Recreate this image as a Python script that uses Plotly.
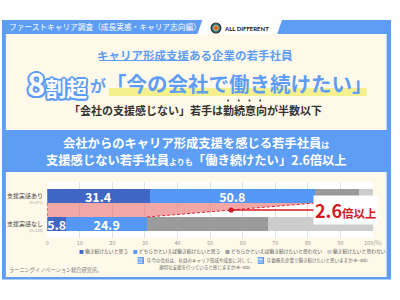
import plotly.graph_objects as go

# ---------------- data ----------------
categories = ["支援実感あり", "支援実感なし"]
sample_sizes = ["(n=471)", "(n=336)"]
series_names = ["働き続けたいと思う", "どちらかといえば働き続けたいと思う",
                "どちらかといえば働き続けたいと思わない", "働き続けたいと思わない"]
want_strong = [31.4, 5.8]
want_somewhat = [50.8, 24.9]
not_want_somewhat = [13.4, 37.0]
not_want_strong = [4.4, 32.3]
x_ticks = [0, 10, 20, 30, 40, 50, 60, 70, 80, 90, 100]
x_tick_labels = ["0", "10", "20", "30", "40", "50", "60", "70", "80", "90", "100(%)"]
ratio_label = "2.6倍以上"

# ---------------- style ----------------
FONT = "Noto Sans CJK JP"
BLUE = "#5e9df4"
CREAM = "#fef9e9"
RED = "#d51a20"
bar_colors = ["#3f66c4", "#5597f4", "#9b9b9b", "#cdcdcd"]
W, H = 400, 300


def px(x):
    return x / W


def py(y):
    return 1 - y / H


y_pos = [len(categories) - 1 - i for i in range(len(categories))]
BAR_W = 0.5

fig = go.Figure()
series = [want_strong, want_somewhat, not_want_somewhat, not_want_strong]
for k, (name, vals) in enumerate(zip(series_names, series)):
    show_text = k < 2
    fig.add_trace(go.Bar(
        y=y_pos, x=vals, name=name, orientation="h", width=BAR_W,
        marker=dict(color=bar_colors[k], line=dict(width=0)),
        text=[f"{v}" for v in vals] if show_text else None,
        textposition="inside" if show_text else "none",
        insidetextanchor="middle", textangle=0, constraintext="none",
        textfont=dict(color="white", size=12.5, family=FONT, weight="bold"),
        hoverinfo="skip", showlegend=False,
    ))

top_total = want_strong[0] + want_somewhat[0]
bottom_total = want_strong[1] + want_somewhat[1]
top_edge = y_pos[0] - BAR_W / 2
bottom_edge = y_pos[1] + BAR_W / 2

fig.add_trace(go.Scatter(
    x=[0, top_total, bottom_total, 0, 0],
    y=[top_edge, top_edge, bottom_edge, bottom_edge, top_edge],
    fill="toself", fillcolor="rgba(232,120,118,0.65)",
    mode="lines", line=dict(width=0), hoverinfo="skip", showlegend=False))
fig.add_trace(go.Scatter(
    x=[0, 0, None, bottom_total, top_total],
    y=[top_edge, bottom_edge, None, bottom_edge, top_edge],
    mode="lines", line=dict(color="#d9272e", width=1, dash="3px,2px"),
    hoverinfo="skip", showlegend=False))

shapes = []
# frame
shapes.append(dict(type="rect", xref="paper", yref="paper", x0=0, x1=1,
                   y0=py(279.5), y1=py(20), fillcolor=BLUE, line=dict(width=0), layer="below"))
shapes.append(dict(type="path", xref="paper", yref="paper",
                   path=f"M {px(206)},{py(20)} L {px(288)},{py(20)} L {px(283)},{py(34)} L {px(201)},{py(34)} Z",
                   fillcolor="white", line=dict(width=0), layer="below"))
shapes.append(dict(type="rect", xref="paper", yref="paper", x0=px(4), x1=px(395.5),
                   y0=py(130), y1=py(34), fillcolor=CREAM, line=dict(width=0), layer="below"))
shapes.append(dict(type="rect", xref="paper", yref="paper", x0=px(4), x1=px(395.5),
                   y0=py(277), y1=py(172), fillcolor=CREAM, line=dict(width=0), layer="below"))
# plot area background
shapes.append(dict(type="rect", xref="paper", yref="paper", x0=px(46.5), x1=px(381.5),
                   y0=py(238), y1=py(182), fillcolor="white", line=dict(width=0), layer="below"))
# yellow highlight under headline
shapes.append(dict(type="rect", xref="paper", yref="paper", x0=px(110), x1=px(375),
                   y0=py(96), y1=py(88), fillcolor="#f5f08e", line=dict(width=0), layer="below"))
# underline
shapes.append(dict(type="line", xref="paper", yref="paper", x0=px(100), x1=px(193),
                   y0=py(60.5), y1=py(60.5), line=dict(color=BLUE, width=1), layer="below"))
# emphasis dots
for cx in [232.5, 243.5, 254.5, 265.5]:
    shapes.append(dict(type="circle", xref="paper", yref="paper",
                       x0=px(cx - 1), x1=px(cx + 1), y0=py(101.5), y1=py(99.5),
                       fillcolor="#333", line=dict(width=0), layer="below"))
# logo
shapes.append(dict(type="circle", xref="paper", yref="paper", x0=px(215), x1=px(225),
                   y0=py(33), y1=py(23), fillcolor="#2f7f8f", line=dict(color="#333", width=1.2), layer="below"))
shapes.append(dict(type="circle", xref="paper", yref="paper", x0=px(217.5), x1=px(222.5),
                   y0=py(30.5), y1=py(25.5), fillcolor="#e4573d", line=dict(color="#f2c94c", width=0.8), layer="below"))
# note icons
for x0 in [139.5, 263]:
    shapes.append(dict(type="rect", xref="paper", yref="paper", x0=px(x0), x1=px(x0 + 6.5),
                       y0=py(264), y1=py(257), fillcolor=BLUE, line=dict(width=0), layer="below"))

ann = []


def text(t, x, y, size, color, xanchor="center", bold=False, family=FONT, **kw):
    d = dict(text=t, x=px(x), y=py(y), xref="paper", yref="paper", xanchor=xanchor,
             yanchor="middle", showarrow=False,
             font=dict(family=family, size=size, color=color, weight="bold" if bold else "normal"))
    d.update(kw)
    ann.append(d)


text("ファーストキャリア調査（成長実感・キャリア志向編）", 5, 27, 7.7, "white", "left")
text("ALL DIFFERENT", 226, 28, 6, "#111", "left", bold=True, family="Lato")
text("キャリア形成支援ある企業の若手社員", 198.5, 55, 11.5, BLUE, bold=True)

outline = ", ".join(f"{a}px {b}px 0 {BLUE}" for a, b in
                    [(2, 0), (-2, 0), (0, 2), (0, -2), (1.5, 1.5), (-1.5, -1.5), (1.5, -1.5), (-1.5, 1.5)])
d = dict(text="<span style='font-size:31px'>8</span>割超", x=px(89), y=py(83), xref="paper", yref="paper",
         xanchor="right", yanchor="middle", showarrow=False,
         font=dict(family=FONT, size=21, color="white", weight="bold", shadow=outline))
ann.append(d)
text("<span style='font-size:16px'>が</span>「今の会社で働き続けたい」", 88, 83, 20.5, BLUE, "left", bold=True)
text("「会社の支援感じない」若手は勤続意向が半数以下", 199, 110, 11, "#333", bold=True)

text("会社からのキャリア形成支援を感じる若手社員<span style='font-size:8px'>は</span>",
     199, 143.5, 12.3, "white", bold=True)
text("支援感じない若手社員<span style='font-size:8px'>よりも</span>「働き続けたい」2.6倍以上",
     200, 159.5, 12.3, "white", bold=True)

# category labels
for cat, n, yp in zip(categories, sample_sizes, y_pos):
    ann.append(dict(text=cat, x=px(44), y=yp, xref="paper", yref="y", xanchor="right", yanchor="middle",
                    yshift=1, showarrow=False, font=dict(family=FONT, size=6, color="#444")))
    ann.append(dict(text=n, x=px(44), y=yp, xref="paper", yref="y", xanchor="right", yanchor="middle",
                    yshift=-6, showarrow=False, font=dict(family=FONT, size=4, color="#aaa")))

# ratio callout
ann.append(dict(text=f"<b><span style='font-size:18px'>{ratio_label[:3]}</span>{ratio_label[3:]}</b>",
                x=(top_total + bottom_total) / 2, y=(top_edge + bottom_edge) / 2, xref="x", yref="y",
                showarrow=True, arrowhead=6, arrowsize=1, arrowwidth=1.3, arrowcolor=RED,
                ax=115, ay=0, standoff=0, bgcolor="white", borderpad=1,
                font=dict(family=FONT, size=11.5, color=RED)))

# legend
legend_txt = "　".join(f"<span style='color:{c}'>■</span> {nm}" for c, nm in zip(bar_colors, series_names))
text(legend_txt, 77.5, 250.5, 4.8, "#555", "left")

# notes
text("設", 142.75, 260.5, 4.5, "white")
text("問", 266.25, 260.5, 4.5, "white")
text("Q.今の会社は、社員のキャリア形成や成長に対して、", 147, 260.5, 4.5, "#666", "left")
text("適切な支援を行っていると感じますか<span style='font-size:3.3px'>(単一回答)</span>", 159, 267, 4.5, "#666", "left")
text("Q.勤務先企業で働き続けたいと思いますか<span style='font-size:3.3px'>(単一回答)</span>", 270, 260.5, 4.5, "#666", "left")
text("ラーニングイノベーション総合研究所。", 5, 269.5, 5.2, "#777", "left")

fig.update_layout(
    width=W, height=H, margin=dict(l=0, r=0, t=0, b=0),
    paper_bgcolor="white", plot_bgcolor="white",
    barmode="stack", hovermode=False, showlegend=False,
    shapes=shapes, annotations=ann,
    font=dict(family=FONT),
    xaxis=dict(domain=[px(46.5), px(381.5)], range=[0, 100], tickvals=x_ticks, ticktext=x_tick_labels,
               showgrid=True, gridcolor="#e2e2e2", gridwidth=1, zeroline=False, showline=False,
               ticks="", tickfont=dict(size=5.5, color="#999", family=FONT), fixedrange=True),
    yaxis=dict(domain=[py(238), py(182)], range=[-0.5, 1.5], visible=False, fixedrange=True),
)

fig.write_html("out.html", config={"displayModeBar": False})
